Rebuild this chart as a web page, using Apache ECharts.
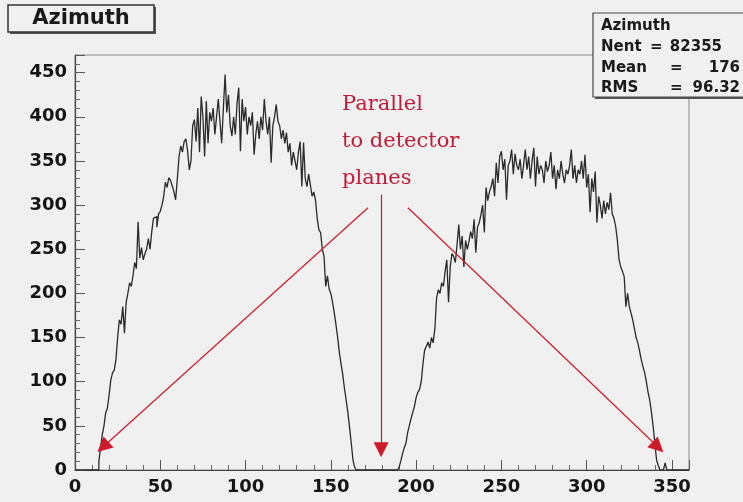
<!DOCTYPE html>
<html><head><meta charset="utf-8">
<script src="https://cdn.jsdelivr.net/npm/echarts@6/dist/echarts.min.js"></script>
<style>html,body{margin:0;padding:0;background:#f0f0f0}#c{width:743px;height:502px}</style>
</head><body><div id="c"></div><script>
// Histogram "Azimuth": 360 bins of 1 degree, from 0 to 360
const binWidth = 1;
const counts = [
0,0,0,0,0,0,0,0,0,0,
0,0,0,0,10,25,40,50,65,70,
85,102,110,113,125,150,170,165,185,155,
190,200,212,208,220,235,228,281,240,252,
238,245,250,262,250,270,285,287,275,290,
293,300,310,326,320,331,328,322,315,306,
330,355,367,360,372,375,362,340,350,390,
397,372,410,360,423,400,355,418,370,405,
395,410,380,400,420,395,370,410,448,405,
425,390,378,400,380,415,433,361,420,395,
411,380,400,390,405,357,380,395,375,400,
385,420,395,380,400,348,390,400,414,395,
390,375,385,370,382,360,370,345,360,350,
340,360,372,321,371,330,321,335,323,310,
315,306,285,272,269,250,242,208,220,205,
200,190,178,165,150,133,120,108,92,79,
65,48,30,11,3,0,0,0,0,0,
0,0,0,0,0,0,0,0,0,0,
0,0,0,0,0,0,0,0,0,0,
3,10,18,25,30,42,50,58,65,72,
82,88,91,100,120,136,140,145,138,150,
144,160,195,204,200,212,208,225,238,190,
230,245,242,235,255,278,250,265,230,260,
250,259,270,262,284,246,275,280,289,300,
269,320,305,315,321,330,310,348,325,355,
361,340,352,306,345,350,363,335,358,345,
340,352,330,345,363,340,355,330,350,365,
321,355,335,345,340,325,350,338,345,360,
330,345,318,340,330,350,335,325,340,335,
345,363,330,345,325,340,335,350,330,357,
320,335,292,330,315,338,280,310,300,285,
305,290,303,295,314,290,285,276,260,238,
230,225,219,185,200,185,178,170,160,150,
144,135,125,117,110,100,88,79,65,49,
30,11,5,0,0,0,8,0,0,0,
0,0,0,0,0,0,0,0,0,0
];
const xTicks = [0,50,100,150,200,250,300,350];
const yTicks = [0,50,100,150,200,250,300,350,400,450];
const titleText = "Azimuth";
const statsLines = [["Nent", "82355"], ["Mean", "176"], ["RMS", "96.32"]];
const noteText = ["Parallel", "to detector", "planes"];
// annotation arrows in data coordinates: [fromX, fromY, toX, toY]
const arrows = [
  [171.8, 297, 16.4, 26],
  [179.5, 312, 179.5, 23],
  [195.2, 297, 341.8, 26]
];

const stepData = counts.map((v, i) => [i * binWidth, v]);
stepData.push([counts.length * binWidth, counts[counts.length - 1]]);

const chart = echarts.init(document.getElementById('c'), null, {renderer: 'canvas'});
const axisFont = {fontFamily: 'DejaVu Sans', fontWeight: 'bold', fontSize: 18, color: '#151515'};
const boldFont = 'bold 15px "DejaVu Sans"';
const statsY = [47, 68, 88];
const statsGraphics = [];
statsLines.forEach((l, i) => {
  statsGraphics.push({type: 'text', z: 101, style: {x: 601, y: statsY[i], text: l[0], font: boldFont, fill: '#1a1a1a', verticalAlign: 'middle'}});
  statsGraphics.push({type: 'text', z: 101, style: {x: i === 0 ? 650 : 670, y: statsY[i], text: '=', font: boldFont, fill: '#1a1a1a', verticalAlign: 'middle'}});
  statsGraphics.push({type: 'text', z: 101, style: {x: i === 0 ? 722 : 740, y: statsY[i], text: l[1], font: boldFont, fill: '#1a1a1a', verticalAlign: 'middle', align: 'right'}});
});

chart.setOption({
  animation: false,
  backgroundColor: '#f0f0f0',
  grid: {left: 75, right: 54, top: 55, bottom: 32, show: true, borderColor: '#8a8a8a', borderWidth: 1, backgroundColor: 'transparent'},
  xAxis: {
    type: 'value', min: 0, max: 360, interval: 50,
    axisLine: {show: true, lineStyle: {color: '#444', width: 1.2}},
    axisTick: {show: true, inside: true, length: 10, lineStyle: {color: '#555'}},
    minorTick: {show: true, splitNumber: 5, length: 5, lineStyle: {color: '#666'}},
    axisLabel: Object.assign({margin: 8, showMaxLabel: false, formatter: v => xTicks.includes(v) ? String(v) : ''}, axisFont),
    splitLine: {show: false}
  },
  yAxis: {
    type: 'value', min: 0, max: 470, interval: 50,
    axisLine: {show: true, lineStyle: {color: '#444', width: 1.2}},
    axisTick: {show: true, inside: true, length: 10, lineStyle: {color: '#555'}},
    minorTick: {show: true, splitNumber: 5, length: 5, lineStyle: {color: '#666'}},
    axisLabel: Object.assign({margin: 8, showMaxLabel: false, formatter: v => yTicks.includes(v) ? String(v) : ''}, axisFont),
    splitLine: {show: false}
  },
  series: [{
    type: 'line', step: 'end', data: stepData, symbol: 'none', silent: true,
    lineStyle: {color: '#2a2a2a', width: 1.3},
    markLine: {
      silent: true, animation: false,
      symbol: ['none', 'triangle'], symbolSize: 15,
      label: {show: false},
      lineStyle: {color: '#cc1b2b', width: 1.2, type: 'solid'},
      itemStyle: {color: '#e01010'},
      emphasis: {disabled: true},
      data: arrows.map(a => [{coord: [a[0], a[1]]}, {coord: [a[2], a[3]]}])
    }
  }],
  graphic: [
    {type: 'rect', z: 100, shape: {x: 10, y: 7, width: 146, height: 27}, style: {fill: '#555'}},
    {type: 'rect', z: 100, shape: {x: 8, y: 5, width: 146, height: 27}, style: {fill: '#f0f0f0', stroke: '#333', lineWidth: 1.5}},
    {type: 'text', z: 101, style: {x: 81, y: 19, text: titleText, font: 'bold 21px "DejaVu Sans"', fill: '#1a1a1a', align: 'center', verticalAlign: 'middle'}},
    {type: 'rect', z: 100, shape: {x: 595, y: 15, width: 160, height: 84}, style: {fill: '#555'}},
    {type: 'rect', z: 100, shape: {x: 593, y: 13, width: 160, height: 84}, style: {fill: '#f0f0f0', stroke: '#444', lineWidth: 1.2}},
    {type: 'text', z: 101, style: {x: 601, y: 26, text: titleText, font: boldFont, fill: '#1a1a1a', verticalAlign: 'middle'}},
    ...statsGraphics,
    {type: 'text', z: 101, style: {x: 342, y: 86, text: noteText.join('\n'), font: '21px "DejaVu Serif"', lineHeight: 37, fill: '#c01c3a'}}
  ]
});
</script></body></html>
